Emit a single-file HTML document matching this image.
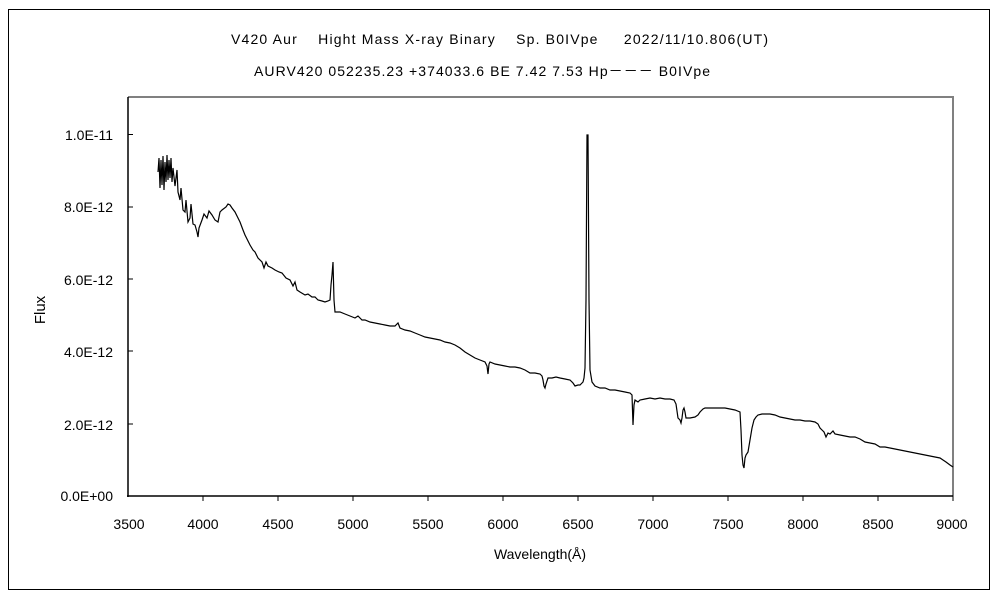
<!DOCTYPE html>
<html><head><meta charset="utf-8"><style>
html,body{margin:0;padding:0;background:#fff;width:1000px;height:600px;overflow:hidden}
svg text{font-family:"Liberation Sans","Noto Sans CJK JP",sans-serif;font-size:14px;fill:#000}
</style></head><body>
<svg width="1000" height="600" viewBox="0 0 1000 600" xmlns="http://www.w3.org/2000/svg">
<rect x="8.5" y="9.5" width="981" height="580" fill="none" stroke="#000" stroke-width="1"/>
<text x="231" y="44" textLength="537" lengthAdjust="spacing" xml:space="preserve">V420 Aur　 Hight Mass X-ray Binary　 Sp. B0IVpe　  2022/11/10.806(UT)</text>
<text x="254" y="76" textLength="456" lengthAdjust="spacing">AURV420 052235.23 +374033.6 BE 7.42 7.53 Hp－－－ B0IVpe</text>
<polyline points="128,97 953,97 953,496" fill="none" stroke="#808080" stroke-width="2"/>
<line x1="128" y1="97" x2="128" y2="497" stroke="#000" stroke-width="1.5"/>
<line x1="127" y1="496" x2="953" y2="496" stroke="#000" stroke-width="1.5"/>
<g stroke="#000" stroke-width="1">
<line x1="128" y1="134.5" x2="133" y2="134.5"/><line x1="128" y1="207" x2="133" y2="207"/><line x1="128" y1="279" x2="133" y2="279"/><line x1="128" y1="351" x2="133" y2="351"/><line x1="128" y1="424" x2="133" y2="424"/>
<line x1="203" y1="496" x2="203" y2="501"/><line x1="278" y1="496" x2="278" y2="501"/><line x1="353" y1="496" x2="353" y2="501"/><line x1="428" y1="496" x2="428" y2="501"/><line x1="503" y1="496" x2="503" y2="501"/><line x1="578" y1="496" x2="578" y2="501"/><line x1="653" y1="496" x2="653" y2="501"/><line x1="728" y1="496" x2="728" y2="501"/><line x1="803" y1="496" x2="803" y2="501"/><line x1="878" y1="496" x2="878" y2="501"/><line x1="953" y1="496" x2="953" y2="501"/>
</g>
<g text-anchor="end" style="font-size:15px">
<text x="113" y="140">1.0E-11</text><text x="113" y="212">8.0E-12</text><text x="113" y="285">6.0E-12</text><text x="113" y="357">4.0E-12</text><text x="113" y="430">2.0E-12</text><text x="113" y="501">0.0E+00</text>
</g>
<g text-anchor="middle" style="font-size:15px">
<text x="129" y="529">3500</text><text x="203" y="529">4000</text><text x="278" y="529">4500</text><text x="353" y="529">5000</text><text x="428" y="529">5500</text><text x="503" y="529">6000</text><text x="578" y="529">6500</text><text x="653" y="529">7000</text><text x="728" y="529">7500</text><text x="803" y="529">8000</text><text x="878" y="529">8500</text><text x="952" y="529">9000</text>
<text x="540" y="559">Wavelength(Å)</text>
</g>
<text x="0" y="0" transform="translate(45,310) rotate(-90)" text-anchor="middle" style="font-size:15px">Flux</text>
<polyline fill="none" stroke="#000" stroke-width="1.2" points="
158,172 159,158 160,188 161,160 162,185 163,156 164,190 165,162 166,182 167,155 168,180 169,160 170,178 171,158 172,182 173,168 175,186 177,170 178,192 180,200 181,188 183,210 185,212 186,200 188,222 190,218 191,204 193,224 195,225 197,232 198,237 199,228 202,220 204,214 207,218 209,211 212,215 215,220 218,222 220,212 222,210 226,207 228,204 230,205 232,208 235,212 238,218 240,222 243,230 245,235 248,241 250,245 253,250 255,252 258,258 262,262 264,268 266,262 268,266 272,268 275,270 279,272 282,273 286,278 290,280 293,286 295,282 297,290 300,292 305,295 308,294 312,297 315,297 318,300 322,301 325,302 328,301 330,300 331,285 332,275 333,262 334,300 335,312 340,312 345,314 350,316 355,318 358,316 362,320 365,320 370,322 375,323 380,324 385,325 390,326 395,326 398,323 400,328 405,330 410,331 415,333 420,335 425,337 430,338 435,339 440,340 445,342 450,343 455,345 460,348 465,352 470,355 475,358 480,360 485,362 487,366 488,374 489,364 490,362 495,364 500,365 505,366 510,367 515,367 520,368 525,370 530,373 535,373 540,374 542,376 543,380 544,386 545,388 546,384 548,378 552,378 556,377 560,378 565,379 570,380 573,383 575,386 578,385 580,385 583,382 584,378 585,368 586,300 587,135 588,135 589,300 590,370 592,382 595,386 600,388 605,388 610,390 615,390 620,391 625,392 630,393 632,395 633,425 634,405 635,400 638,402 640,400 645,399 650,398 655,399 660,398 665,399 670,399 674,400 676,404 678,418 680,420 681,423 682,418 683,410 684,408 685,412 686,418 690,418 695,417 698,415 700,412 703,409 705,408 710,408 715,408 720,408 725,408 730,409 735,410 740,412 741,430 742,455 743,465 744,468 745,458 746,455 748,452 750,440 752,428 754,420 756,417 758,415 762,414 766,414 770,414 775,415 780,417 785,418 790,419 795,420 800,420 805,421 810,421 815,422 818,424 820,428 822,430 824,432 826,437 828,433 830,434 833,431 835,434 840,435 845,436 850,437 855,437 860,439 865,442 870,443 875,444 880,447 885,447 890,448 895,449 900,450 905,451 910,452 915,453 920,454 925,455 930,456 935,457 940,458 943,460 946,462 950,465 953,467"/>
</svg>
</body></html>
